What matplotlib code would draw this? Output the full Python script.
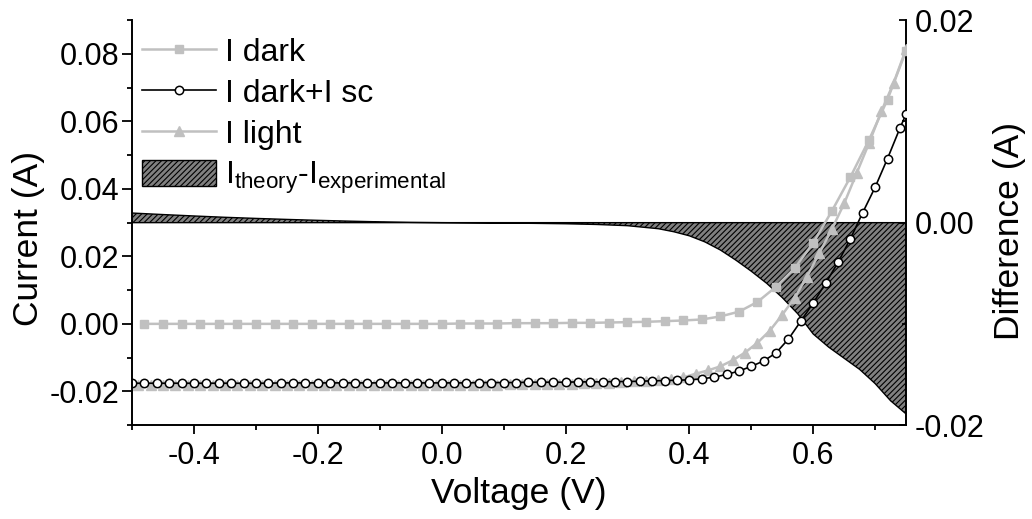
import numpy as np
import matplotlib
matplotlib.use('Agg')
import matplotlib.pyplot as plt
from matplotlib.ticker import MultipleLocator
from matplotlib.lines import Line2D
from matplotlib.patches import Patch

plt.rcParams['font.family'] = ['Liberation Sans', 'DejaVu Sans']
plt.rcParams['mathtext.fontset'] = 'custom'
plt.rcParams['mathtext.rm'] = 'Liberation Sans'
plt.rcParams['hatch.linewidth'] = 0.8

# I dark (squares), 0.03 V steps
v_dark = [-0.48, -0.45, -0.42, -0.39, -0.36, -0.33, -0.30, -0.27, -0.24, -0.21,
          -0.18, -0.15, -0.12, -0.09, -0.06, -0.03, 0.00, 0.03, 0.06, 0.09,
          0.12, 0.15, 0.18, 0.21, 0.24, 0.27, 0.30, 0.33, 0.36, 0.39,
          0.42, 0.45, 0.48, 0.51, 0.54, 0.57, 0.60, 0.63, 0.66, 0.69,
          0.72, 0.75]
i_dark = [0.0, 0.0, 0.0, 0.0, 0.0, 0.0, 0.0, 0.0, 0.0, 0.0,
          0.0, 0.0, 0.0, 0.0, 0.0, 0.0, 0.0, 0.0001, 0.0001, 0.0001,
          0.0002, 0.0002, 0.0002, 0.0003, 0.0003, 0.0004, 0.0005, 0.0006, 0.0008, 0.0010,
          0.0013, 0.0022, 0.0036, 0.0065, 0.0110, 0.0165, 0.0240, 0.0334, 0.0435, 0.0545,
          0.0665, 0.0810]

# I dark + I sc (open circles), 0.02 V steps
v_sum = [-0.50, -0.48, -0.46, -0.44, -0.42, -0.40, -0.38, -0.36, -0.34, -0.32,
         -0.30, -0.28, -0.26, -0.24, -0.22, -0.20, -0.18, -0.16, -0.14, -0.12,
         -0.10, -0.08, -0.06, -0.04, -0.02, 0.00, 0.02, 0.04, 0.06, 0.08,
         0.10, 0.12, 0.14, 0.16, 0.18, 0.20, 0.22, 0.24, 0.26, 0.28,
         0.30, 0.32, 0.34, 0.36, 0.38, 0.40, 0.42, 0.44, 0.46, 0.48,
         0.50, 0.52, 0.54, 0.56, 0.58, 0.60, 0.62, 0.64, 0.66, 0.68,
         0.70, 0.72, 0.74, 0.75]
i_sum = [-0.0176, -0.0176, -0.0176, -0.0176, -0.0176, -0.0176, -0.0176, -0.0176, -0.0176, -0.0176,
         -0.0176, -0.0176, -0.0175, -0.0175, -0.0175, -0.0175, -0.0175, -0.0175, -0.0175, -0.0175,
         -0.0175, -0.0175, -0.0175, -0.0175, -0.0175, -0.0175, -0.0175, -0.0175, -0.0174, -0.0174,
         -0.0174, -0.0174, -0.0173, -0.0173, -0.0173, -0.0173, -0.0172, -0.0172, -0.0172, -0.0171,
         -0.0171, -0.0170, -0.0169, -0.0168, -0.0167, -0.0166, -0.0163, -0.0158, -0.0150, -0.0140,
         -0.0126, -0.0110, -0.0086, -0.0045, 0.0008, 0.0062, 0.0120, 0.0182, 0.0252, 0.0330,
         0.0405, 0.0490, 0.0580, 0.0622]

# I light (triangles), 0.02 V steps
v_light = [-0.49, -0.47, -0.45, -0.43, -0.41, -0.39, -0.37, -0.35, -0.33, -0.31,
           -0.29, -0.27, -0.25, -0.23, -0.21, -0.19, -0.17, -0.15, -0.13, -0.11,
           -0.09, -0.07, -0.05, -0.03, -0.01, 0.01, 0.03, 0.05, 0.07, 0.09,
           0.11, 0.13, 0.15, 0.17, 0.19, 0.21, 0.23, 0.25, 0.27, 0.29,
           0.31, 0.33, 0.35, 0.37, 0.39, 0.41, 0.43, 0.45, 0.47, 0.49,
           0.51, 0.53, 0.55, 0.57, 0.59, 0.61, 0.63, 0.65, 0.67, 0.69,
           0.71, 0.73, 0.75]
i_light = [-0.0182, -0.0182, -0.0182, -0.0182, -0.0182, -0.0182, -0.0182, -0.0182, -0.0182, -0.0182,
           -0.0181, -0.0181, -0.0181, -0.0181, -0.0181, -0.0181, -0.0181, -0.0181, -0.0181, -0.0181,
           -0.0180, -0.0180, -0.0180, -0.0180, -0.0180, -0.0180, -0.0180, -0.0180, -0.0180, -0.0180,
           -0.0179, -0.0179, -0.0178, -0.0178, -0.0177, -0.0177, -0.0176, -0.0175, -0.0174, -0.0172,
           -0.0170, -0.0168, -0.0165, -0.0162, -0.0159, -0.0148, -0.0138, -0.0126, -0.0108, -0.0085,
           -0.0056, -0.0020, 0.0027, 0.0077, 0.0140, 0.0210, 0.0280, 0.0357, 0.0446, 0.0535,
           0.0630, 0.0715, 0.0815]

# I theory - I experimental (right axis)
v_diff = [-0.50, -0.45, -0.40, -0.35, -0.30, -0.25, -0.20, -0.15, -0.10, -0.05,
          0.00, 0.05, 0.10, 0.15, 0.20, 0.25, 0.30, 0.35, 0.375, 0.40,
          0.425, 0.45, 0.475, 0.50, 0.525, 0.55, 0.575, 0.60, 0.625, 0.65,
          0.675, 0.70, 0.725, 0.75]
i_diff = [0.00095, 0.0008, 0.00066, 0.00053, 0.00042, 0.00032, 0.00023, 0.00015, 0.00008, 0.00003,
          0.0, -0.00002, -0.00004, -0.00007, -0.00011, -0.00018, -0.0003, -0.0006, -0.0009, -0.0013,
          -0.0019, -0.0027, -0.0037, -0.0048, -0.0060, -0.0074, -0.0090, -0.0110, -0.0123, -0.0134,
          -0.0145, -0.0159, -0.0176, -0.0189]

fig = plt.figure(figsize=(10.32, 5.19), dpi=100)
ax = fig.add_axes([0.128, 0.181, 0.75, 0.78])
ax2 = ax.twinx()

# fill on the twin axis, drawn behind the curves
ax2.fill_between(v_diff, i_diff, 0, facecolor='#808080', edgecolor='black',
                 hatch='//////', linewidth=1.0)
ax.set_zorder(ax2.get_zorder() + 1)
ax.patch.set_visible(False)

gray = '#c0c0c0'
ax.plot(v_dark, i_dark, color=gray, lw=1.8, marker='s', ms=5.5, mec=gray, mfc=gray)
ax.plot(v_light, i_light, color=gray, lw=1.8, marker='^', ms=7, mec=gray, mfc=gray)
ax.plot(v_sum, i_sum, color='black', lw=1.2, marker='o', ms=6, mec='black', mfc='white', mew=1.1)

ax.set_xlim(-0.5, 0.75)
ax.set_ylim(-0.03, 0.09)
ax2.set_ylim(-0.02, 0.02)

ax.xaxis.set_major_locator(MultipleLocator(0.2))
ax.xaxis.set_minor_locator(MultipleLocator(0.1))
ax.yaxis.set_major_locator(MultipleLocator(0.02))
ax.yaxis.set_minor_locator(MultipleLocator(0.01))
ax2.yaxis.set_major_locator(MultipleLocator(0.02))
ax2.yaxis.set_minor_locator(MultipleLocator(0.01))
ax.xaxis.set_major_formatter(lambda x, p: f'{x:.1f}')
ax.yaxis.set_major_formatter(lambda y, p: f'{y:.2f}')
ax2.yaxis.set_major_formatter(lambda y, p: f'{y:.2f}')

for a in (ax, ax2):
    a.spines['top'].set_visible(False)
    for s in a.spines.values():
        s.set_linewidth(1.4)
ax.spines['right'].set_visible(False)
ax2.spines['left'].set_visible(False)
ax2.spines['bottom'].set_visible(False)

ax.tick_params(axis='x', which='major', direction='out', length=6.5, width=1.3, labelsize=22, pad=5)
ax.tick_params(axis='x', which='minor', direction='out', length=3.5, width=1.3)
ax.tick_params(axis='y', which='major', direction='out', length=7.5, width=1.3, labelsize=22, pad=1.5)
ax.tick_params(axis='y', which='minor', direction='out', length=3.5, width=1.3)
ax2.tick_params(axis='y', which='major', direction='in', length=5, width=1.3, labelsize=22, pad=6)
ax2.tick_params(axis='y', which='minor', direction='in', length=3, width=1.3)

ax.set_xlabel('Voltage (V)', fontsize=25.5, labelpad=4)
ax.set_ylabel('Current (A)', fontsize=25.5)
ax.yaxis.set_label_coords(-0.112, 0.46)
ax2.set_ylabel('Difference (A)', fontsize=25.5)
ax2.yaxis.set_label_coords(1.112, 0.48)

handles = [
    Line2D([], [], color=gray, lw=1.8, marker='s', ms=5.5, mec=gray, mfc=gray),
    Line2D([], [], color='black', lw=1.2, marker='o', ms=6, mec='black', mfc='white', mew=1.1),
    Line2D([], [], color=gray, lw=1.8, marker='^', ms=7, mec=gray, mfc=gray),
    Patch(facecolor='#808080', edgecolor='black', hatch='//////', linewidth=1.0),
]
labels = ['I dark', 'I dark+I sc', 'I light',
          r'I$_{\mathregular{theory}}$-I$_{\mathregular{experimental}}$']
ax.legend(handles, labels, loc='upper left', bbox_to_anchor=(0.0, 0.985), frameon=False,
          fontsize=23, handlelength=2.3, handleheight=0.88, handletextpad=0.3,
          labelspacing=0.31, borderpad=0.0, borderaxespad=0.32)

fig.savefig('out.png', dpi=100)
